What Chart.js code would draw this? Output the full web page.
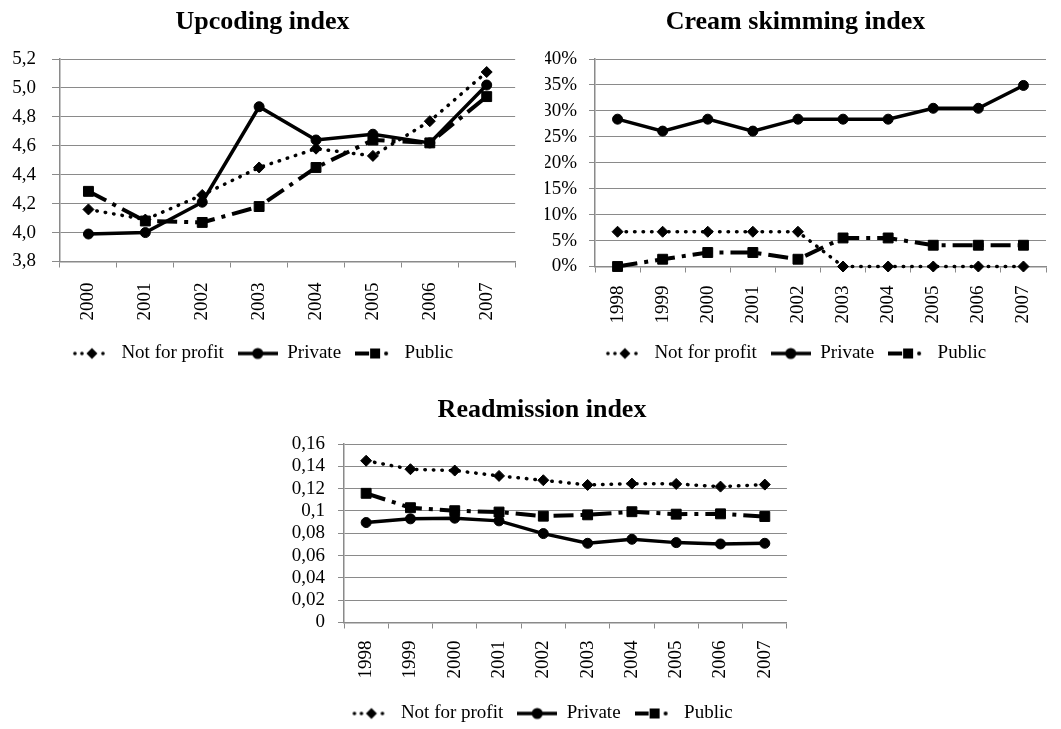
<!DOCTYPE html>
<html>
<head>
<meta charset="utf-8">
<script src="https://cdn.jsdelivr.net/npm/chart.js@4.4.1/dist/chart.umd.min.js"></script>
<style>
  html, body { margin: 0; padding: 0; background: #fff; overflow: hidden; width: 1061px; height: 729px; }
  canvas { position: absolute; }
</style>
</head>
<body>
<canvas id="upcoding" width="525" height="373" style="left:0;top:0"></canvas>
<canvas id="cream" width="531" height="373" style="left:530px;top:0"></canvas>
<canvas id="readm" width="516" height="363" style="left:284px;top:370px"></canvas>
<script>
const seriesNames = ['Not for profit', 'Private', 'Public'];

// Upcoding index
const upYears = ['2000', '2001', '2002', '2003', '2004', '2005', '2006', '2007'];
const upNotForProfit = [4.16, 4.09, 4.26, 4.45, 4.58, 4.53, 4.77, 5.11];
const upPrivate = [3.99, 4.00, 4.21, 4.87, 4.64, 4.68, 4.62, 5.02];
const upPublic = [4.285, 4.08, 4.07, 4.18, 4.45, 4.64, 4.62, 4.94];
const upTickValues = [3.8, 4.0, 4.2, 4.4, 4.6, 4.8, 5.0, 5.2];
const upTickLabels = ['3,8', '4,0', '4,2', '4,4', '4,6', '4,8', '5,0', '5,2'];

// Cream skimming index
const csYears = ['1998', '1999', '2000', '2001', '2002', '2003', '2004', '2005', '2006', '2007'];
const csNotForProfit = [0.067, 0.067, 0.067, 0.067, 0.067, 0, 0, 0, 0, 0];
const csPrivate = [0.284, 0.261, 0.284, 0.261, 0.284, 0.284, 0.284, 0.305, 0.305, 0.349];
const csPublic = [0, 0.014, 0.027, 0.027, 0.014, 0.055, 0.055, 0.041, 0.041, 0.041];
const csTickValues = [0, 0.05, 0.10, 0.15, 0.20, 0.25, 0.30, 0.35, 0.40];
const csTickLabels = ['0%', '5%', '10%', '15%', '20%', '25%', '30%', '35%', '40%'];

// Readmission index
const raYears = ['1998', '1999', '2000', '2001', '2002', '2003', '2004', '2005', '2006', '2007'];
const raNotForProfit = [0.145, 0.1374, 0.1362, 0.1314, 0.1275, 0.1233, 0.1245, 0.1242, 0.1218, 0.1236];
const raPrivate = [0.0896, 0.0929, 0.0935, 0.0911, 0.0797, 0.0710, 0.0746, 0.0716, 0.0704, 0.0710];
const raPublic = [0.1158, 0.1029, 0.1002, 0.0990, 0.0953, 0.0965, 0.0993, 0.0971, 0.0974, 0.0950];
const raTickValues = [0, 0.02, 0.04, 0.06, 0.08, 0.10, 0.12, 0.14, 0.16];
const raTickLabels = ['0', '0,02', '0,04', '0,06', '0,08', '0,1', '0,12', '0,14', '0,16'];

const FONT = 'Liberation Serif';
const GRID = '#8a8a8a';

// little line+marker samples for the legend
function legendIcon(kind) {
    const c = document.createElement('canvas');
    c.width = 40; c.height = 14;
    const g = c.getContext('2d');
    g.fillStyle = '#000'; g.strokeStyle = '#000';
    const cy = 7;
    if (kind === 0) {
        [3, 10, 31].forEach(x => { g.beginPath(); g.arc(x, cy, 1.8, 0, Math.PI * 2); g.fill(); });
        g.beginPath();
        g.moveTo(20 - 5.5, cy); g.lineTo(20, cy - 5.5); g.lineTo(20 + 5.5, cy); g.lineTo(20, cy + 5.5);
        g.closePath(); g.fill();
    } else if (kind === 1) {
        g.lineWidth = 3.5;
        g.beginPath(); g.moveTo(0, cy); g.lineTo(40, cy); g.stroke();
        g.beginPath(); g.arc(20, cy, 5.5, 0, Math.PI * 2); g.fill();
    } else {
        g.fillRect(0, cy - 2, 14, 4);
        g.fillRect(15, cy - 5, 10, 10);
        g.beginPath(); g.arc(31, cy, 2, 0, Math.PI * 2); g.fill();
    }
    return c;
}
const icons = [legendIcon(0), legendIcon(1), legendIcon(2)];

function makeChart(id, title, labels, series, tickValues, tickLabels, lay) {
    const styles = [
        { borderWidth: 3.5, borderDash: [0.5, 8], borderCapStyle: 'round', pointStyle: 'rectRot', pointRadius: 5.5 },
        { borderWidth: 3.5, borderDash: [], borderCapStyle: 'butt', pointStyle: 'circle', pointRadius: 5 },
        { borderWidth: 4, borderDash: [20, 7, 4, 7], borderCapStyle: 'butt', pointStyle: 'rect', pointRadius: 7 }
    ];
    new Chart(document.getElementById(id), {
        type: 'line',
        data: {
            labels: labels,
            datasets: series.map((data, i) => Object.assign({
                label: seriesNames[i],
                data,
                borderColor: '#000',
                backgroundColor: '#000',
                pointBackgroundColor: '#000',
                pointBorderColor: '#000',
                pointBorderWidth: 1,
                tension: 0,
                clip: false
            }, styles[i]))
        },
        options: {
            responsive: false,
            animation: false,
            devicePixelRatio: 1,
            layout: { padding: { left: lay.padL, right: lay.padR, top: 0, bottom: 0 } },
            plugins: {
                title: {
                    display: true,
                    text: title,
                    color: '#000',
                    font: { family: FONT, size: 26, weight: 'bold', lineHeight: 1.2 },
                    padding: { top: lay.titleTop, bottom: lay.titleBottom }
                },
                legend: {
                    position: 'bottom',
                    labels: {
                        usePointStyle: true,
                        pointStyleWidth: 40,
                        padding: 14,
                        color: '#000',
                        font: { family: FONT, size: 19 },
                        generateLabels: () => seriesNames.map((t, i) => ({
                            text: t, pointStyle: icons[i], fillStyle: '#000', strokeStyle: '#000',
                            lineWidth: 0, hidden: false, datasetIndex: i, fontColor: '#000'
                        }))
                    }
                },
                tooltip: { enabled: false }
            },
            scales: {
                x: {
                    offset: true,
                    grid: { offset: true, drawOnChartArea: false, drawTicks: true, tickLength: lay.xTick, color: GRID },
                    border: { display: true, color: GRID, width: 1.5 },
                    ticks: {
                        color: '#000', font: { family: FONT, size: 19 }, padding: lay.xPad,
                        minRotation: 90, maxRotation: 90, autoSkip: false
                    },
                    afterFit: s => { s.height = lay.xH; }
                },
                y: {
                    min: tickValues[0],
                    max: tickValues[tickValues.length - 1],
                    grid: { color: GRID, tickLength: lay.yTick },
                    border: { display: true, color: GRID, width: 1.5 },
                    ticks: {
                        color: '#000', font: { family: FONT, size: 19 }, padding: lay.yPad,
                        autoSkip: false,
                        callback: (v, i) => tickLabels[i]
                    },
                    afterBuildTicks: s => { s.ticks = tickValues.map(v => ({ value: v })); },
                    afterFit: s => { s.width = lay.yW; }
                }
            }
        }
    });
}

makeChart('upcoding', 'Upcoding index', upYears, [upNotForProfit, upPrivate, upPublic],
    upTickValues, upTickLabels,
    { padL: 7, padR: 7, yW: 53, yTick: 8, yPad: 16, xH: 68.5, xTick: 6, xPad: 15, titleTop: 6.4, titleBottom: 21.4 });

makeChart('cream', 'Cream skimming index', csYears, [csNotForProfit, csPrivate, csPublic],
    csTickValues, csTickLabels,
    { padL: 15, padR: 15, yW: 50, yTick: 6, yPad: 12, xH: 63.5, xTick: 6, xPad: 13, titleTop: 6.4, titleBottom: 21.4 });

makeChart('readm', 'Readmission index', raYears, [raNotForProfit, raPrivate, raPublic],
    raTickValues, raTickLabels,
    { padL: 5, padR: 5, yW: 55, yTick: 6, yPad: 13, xH: 67.5, xTick: 6, xPad: 12, titleTop: 24.4, titleBottom: 18.4 });
</script>
</body>
</html>
